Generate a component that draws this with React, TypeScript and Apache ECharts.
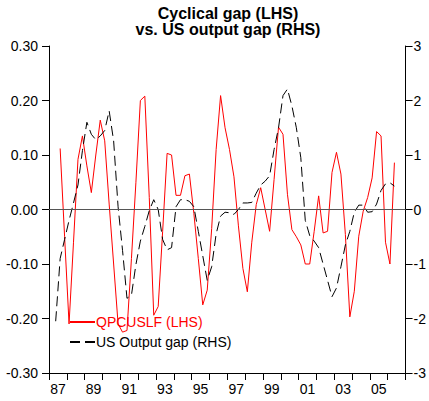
import React, { useEffect, useRef } from "react";
import * as echarts from "echarts";

// Year categories (x-axis), quarterly data start 1987Q1
const years = ["87","88","89","90","91","92","93","94","95","96","97","98","99","00","01","02","03","04","05","06"];

// QPCUSLF (LHS) cyclical gap, quarterly from 1987Q1 (null = no data)
const qpcuslf = [
  null, null, 0.112, -0.05, -0.21, -0.06, 0.092, 0.135, 0.08, 0.031,
  0.10, 0.164, 0.126, 0.01, -0.10, -0.21, -0.225, -0.222, -0.09, 0.05,
  0.20, 0.208, 0.022, -0.194, -0.178, -0.04, 0.103, 0.10, 0.026, 0.026,
  0.062, 0.065, -0.007, -0.09, -0.175, -0.148, -0.035, 0.11, 0.209, 0.15,
  0.11, 0.06, -0.03, -0.108, -0.151, -0.06, 0.009, 0.04, 0.0, -0.04,
  0.055, 0.151, 0.138, 0.028, -0.037, -0.05, -0.065, -0.1, -0.1, -0.04,
  0.025, -0.043, -0.04, 0.068, 0.105, 0.065, -0.046, -0.197, -0.15, -0.049,
  -0.003, 0.022, 0.058, 0.143, 0.135, -0.06, -0.1, 0.086,
];

// US Output gap (RHS), quarterly from 1987Q1
const usOutputGap = [
  null, -2.05, -0.9, -0.55, -0.2, 0.12, 0.45, 1.08, 1.6, 1.38,
  1.28, 1.35, 1.45, 1.81, 1.26, 0.05, -0.75, -1.63, -1.57, -1.01,
  -0.58, -0.31, -0.02, 0.18, 0.0, -0.55, -0.74, -0.7, 0.05, 0.18,
  0.18, 0.15, 0.05, -0.4, -0.85, -1.3, -1.05, -0.45, -0.12, -0.05,
  -0.06, -0.09, 0.0, 0.12, 0.12, 0.13, 0.3, 0.45, 0.52, 0.62,
  1.1, 1.5, 2.09, 2.21, 1.9, 1.5, 0.95, -0.2, -0.48, -0.58,
  -0.7, -1.0, -1.3, -1.6, -1.44, -1.05, -0.65, -0.4, -0.05, 0.08,
  0.08, -0.05, -0.04, 0.1, 0.35, 0.47, 0.49, 0.43,
];

const leftTicks = ["-0.30", "-0.20", "-0.10", "0.00", "0.10", "0.20", "0.30"];
const rightTicks = ["-3", "-2", "-1", "0", "1", "2", "3"];

const FONT = "'Liberation Sans', Arial, sans-serif";

const toPairs = (arr: (number | null)[]) =>
  arr.map((v, i) => [i + 0.5, v]).filter((p) => p[1] !== null);

export default function App() {
  const ref = useRef<HTMLDivElement>(null);

  useEffect(() => {
    if (!ref.current) return;
    const chart = echarts.init(ref.current, null, { renderer: "svg" });
    chart.setOption({
      animation: false,
      backgroundColor: "#ffffff",
      textStyle: { fontFamily: FONT },
      title: {
        text: "Cyclical gap (LHS)\nvs. US output gap (RHS)",
        left: 228,
        top: 5,
        padding: 0,
        textAlign: "center",
        textStyle: {
          fontFamily: FONT,
          fontSize: 16,
          fontWeight: "bold",
          lineHeight: 16,
          color: "#000",
        },
      },
      legend: {
        orient: "vertical",
        left: 69,
        top: 315,
        itemWidth: 25,
        itemHeight: 14,
        itemGap: 6,
        padding: 0,
        itemStyle: { opacity: 0 },
        textStyle: { fontFamily: FONT, fontSize: 14, padding: [0, 0, 0, -4] },
        data: [
          { name: "QPCUSLF (LHS)", textStyle: { color: "#ff0000" } },
          { name: "US Output gap (RHS)", textStyle: { color: "#000000" } },
        ],
      },
      grid: { left: 49, right: 22, top: 46, bottom: 28 },
      xAxis: [
        {
          type: "category",
          data: years,
          boundaryGap: true,
          axisLine: { onZero: false, lineStyle: { color: "#000", width: 1 } },
          axisTick: { show: true, interval: 0, length: 7, lineStyle: { color: "#000" } },
          axisLabel: { interval: 1, color: "#000", fontSize: 14, fontFamily: FONT, margin: 9 },
          splitLine: { show: false },
        },
        {
          type: "value",
          min: 0,
          max: years.length * 4,
          show: false,
        },
      ],
      yAxis: [
        {
          type: "value",
          min: -0.3,
          max: 0.3,
          interval: 0.1,
          position: "left",
          axisLine: { show: true, onZero: false, lineStyle: { color: "#000", width: 1 } },
          axisTick: { show: true, length: 7, lineStyle: { color: "#000" } },
          axisLabel: {
            color: "#000",
            fontSize: 14,
            fontFamily: FONT,
            margin: 11,
            formatter: (v: number) => leftTicks[Math.round((v + 0.3) * 10)] ?? "",
          },
          splitLine: { show: false },
        },
        {
          type: "value",
          min: -3,
          max: 3,
          interval: 1,
          position: "right",
          axisLine: { show: true, onZero: false, lineStyle: { color: "#000", width: 1 } },
          axisTick: { show: true, length: 7, lineStyle: { color: "#000" } },
          axisLabel: {
            color: "#000",
            fontSize: 14,
            fontFamily: FONT,
            margin: 8,
            formatter: (v: number) => rightTicks[Math.round(v + 3)] ?? "",
          },
          splitLine: { show: false },
        },
      ],
      series: [
        {
          name: "QPCUSLF (LHS)",
          type: "line",
          xAxisIndex: 1,
          yAxisIndex: 0,
          data: toPairs(qpcuslf),
          symbol: "none",
          lineStyle: { color: "#ff0000", width: 1 },
          itemStyle: { color: "#ff0000" },
          markLine: {
            silent: true,
            symbol: "none",
            label: { show: false },
            lineStyle: { color: "#555555", width: 1, type: "solid" },
            data: [{ yAxis: 0 }],
          },
        },
        {
          name: "US Output gap (RHS)",
          type: "line",
          xAxisIndex: 1,
          yAxisIndex: 1,
          data: toPairs(usOutputGap),
          symbol: "none",
          lineStyle: { color: "#000000", width: 1, type: [10, 5] },
          itemStyle: { color: "#000000" },
        },
      ],
    });
    return () => chart.dispose();
  }, []);

  return (
    <div
      ref={ref}
      style={{ position: "fixed", left: 0, top: 0, width: 429, height: 401 }}
    />
  );
}
